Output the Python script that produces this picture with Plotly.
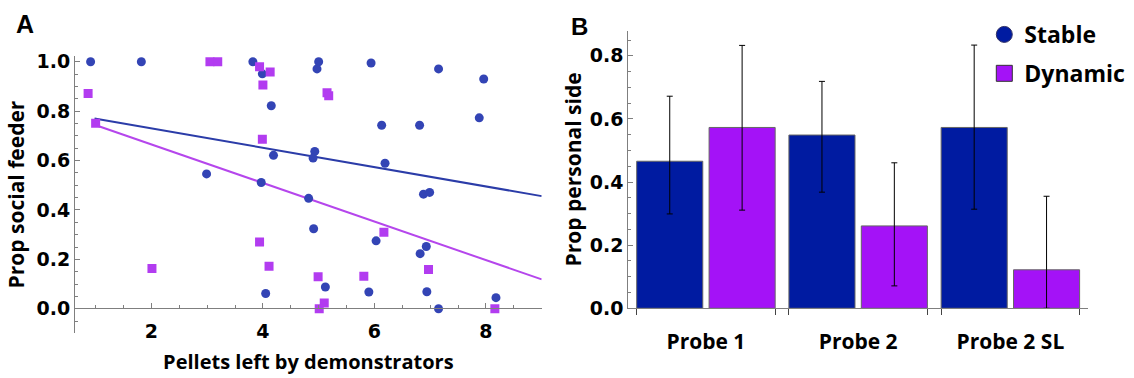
import plotly.graph_objects as go

# ---------------- Panel A data (scatter) ----------------
stable_x = [0.91, 1.82, 3.82, 3.99, 4.15, 4.19, 2.99, 3.97, 5.00, 4.97, 5.94, 7.15, 7.96,
            6.13, 6.81, 7.88, 4.93, 4.90, 6.19, 4.82, 6.88, 6.99, 4.91, 6.03, 6.93, 6.82,
            5.12, 5.90, 6.94, 8.18, 7.15, 4.05]
stable_y = [1.00, 1.00, 1.00, 0.951, 0.822, 0.621, 0.546, 0.511, 1.00, 0.971, 0.995, 0.971, 0.930,
            0.743, 0.743, 0.773, 0.637, 0.610, 0.589, 0.447, 0.464, 0.471, 0.324, 0.275, 0.252, 0.223,
            0.088, 0.068, 0.069, 0.045, 0.000, 0.062]
dynamic_x = [3.05, 3.19, 3.94, 4.13, 4.00, 0.865, 1.00, 3.99, 5.15, 5.18, 6.17, 6.97, 4.11,
             4.99, 5.81, 5.10, 5.01, 8.16, 3.94, 2.01]
dynamic_y = [1.00, 1.00, 0.980, 0.958, 0.906, 0.871, 0.751, 0.686, 0.875, 0.862, 0.310, 0.159, 0.172,
             0.130, 0.132, 0.023, 0.000, 0.000, 0.270, 0.163]
fit_x = [0.98, 9.0]
stable_fit_y = [0.770, 0.456]
dynamic_fit_y = [0.745, 0.119]

# ---------------- Panel B data (bars) ----------------
probes = ["Probe 1", "Probe 2", "Probe 2 SL"]
stable_mean = [0.466, 0.549, 0.573]
stable_hi = [0.672, 0.719, 0.834]
stable_lo = [0.299, 0.368, 0.314]
dynamic_mean = [0.573, 0.261, 0.122]
dynamic_hi = [0.833, 0.461, 0.355]
dynamic_lo = [0.311, 0.071, 0.000]

# ---------------- styles ----------------
BLUE_PT = "#3344B5"
PURP_PT = "#B23CF0"
BLUE_LN = "#2B3CA8"
PURP_LN = "#B546EC"
BLUE_BAR = "#001BA1"
PURP_BAR = "#A412F7"
AXC = "#7F7F7F"
NUMFONT = dict(family="DejaVu Sans", size=19, color="black", weight="bold")
LABFONT = dict(family="Open Sans", size=21, color="black", weight="bold")

BARGAP = 0.049
BARGROUPGAP = 0.087

fig = go.Figure()

# Panel A
fig.add_trace(go.Scatter(x=fit_x, y=stable_fit_y, mode="lines",
                         line=dict(color=BLUE_LN, width=2), showlegend=False,
                         xaxis="x", yaxis="y"))
fig.add_trace(go.Scatter(x=fit_x, y=dynamic_fit_y, mode="lines",
                         line=dict(color=PURP_LN, width=2), showlegend=False,
                         xaxis="x", yaxis="y"))
fig.add_trace(go.Scatter(x=stable_x, y=stable_y, mode="markers",
                         marker=dict(symbol="circle", size=9, color=BLUE_PT),
                         showlegend=False, xaxis="x", yaxis="y"))
fig.add_trace(go.Scatter(x=dynamic_x, y=dynamic_y, mode="markers",
                         marker=dict(symbol="square", size=9, color=PURP_PT),
                         showlegend=False, xaxis="x", yaxis="y"))

# Panel B
pos = list(range(len(probes)))
fig.add_trace(go.Bar(
    x=pos, y=stable_mean, name="Stable", showlegend=False,
    marker=dict(color=BLUE_BAR, line=dict(color="#666666", width=1)),
    error_y=dict(type="data", symmetric=False,
                 array=[h - m for h, m in zip(stable_hi, stable_mean)],
                 arrayminus=[m - l for m, l in zip(stable_mean, stable_lo)],
                 color="black", thickness=1, width=3),
    xaxis="x2", yaxis="y2"))
fig.add_trace(go.Bar(
    x=pos, y=dynamic_mean, name="Dynamic", showlegend=False,
    marker=dict(color=PURP_BAR, line=dict(color="#666666", width=1)),
    error_y=dict(type="data", symmetric=False,
                 array=[h - m for h, m in zip(dynamic_hi, dynamic_mean)],
                 arrayminus=[m - l for m, l in zip(dynamic_mean, dynamic_lo)],
                 color="black", thickness=1, width=3),
    xaxis="x2", yaxis="y2"))

# legend entries
fig.add_trace(go.Scatter(x=[None], y=[None], mode="markers", name="Stable",
                         legendgroup="s",
                         marker=dict(symbol="circle", size=16, color=BLUE_BAR,
                                     line=dict(color="#333366", width=1)),
                         xaxis="x2", yaxis="y2"))
fig.add_trace(go.Scatter(x=[None], y=[None], mode="markers", name="Dynamic",
                         legendgroup="d",
                         marker=dict(symbol="square", size=16, color=PURP_BAR,
                                     line=dict(color="#333333", width=1)),
                         xaxis="x2", yaxis="y2"))

# group edge ticks for panel B
slot = (1 - BARGAP) / 2
half = slot - slot * BARGROUPGAP / 2
edges = []
for p in pos:
    edges += [p - half, p + half]

W, H = 1134, 378
fig.update_layout(
    width=W, height=H,
    margin=dict(l=0, r=0, t=0, b=0),
    paper_bgcolor="white", plot_bgcolor="white",
    barmode="group", bargap=BARGAP, bargroupgap=BARGROUPGAP,
    showlegend=True,
    legend=dict(x=0.868, y=0.978, xanchor="left", yanchor="top",
                font=dict(family="Open Sans", size=23, color="black", weight="bold"),
                bgcolor="rgba(0,0,0,0)", itemsizing="trace",
                traceorder="grouped", tracegroupgap=6),
    xaxis=dict(domain=[75 / W, 541.7 / W], range=[0.63, 9.0],
               anchor="free", position=1 - 316.7 / H,
               showline=True, linecolor=AXC, linewidth=1,
               ticks="inside", ticklen=5, tickcolor=AXC, tick0=0, dtick=2,
               minor=dict(dtick=0.5, tick0=0, ticks="inside", ticklen=3, tickcolor=AXC),
               showgrid=False, zeroline=False, tickfont=NUMFONT, ticklabelstandoff=6,
               title=dict(text="Pellets left by demonstrators",
                          font=dict(family="Open Sans", size=20, color="black", weight="bold"),
                          standoff=13)),
    yaxis=dict(domain=[1 - 343 / H, 1 - 52.8 / H], range=[-0.1, 1.025],
               anchor="x", showline=True, linecolor=AXC, linewidth=1,
               ticks="inside", ticklen=5, tickcolor=AXC, tick0=0, dtick=0.2,
               tickformat=".1f",
               minor=dict(dtick=0.05, tick0=0, ticks="inside", ticklen=3, tickcolor=AXC),
               showgrid=False, zeroline=False, tickfont=NUMFONT,
               title=dict(text="Prop social feeder", font=LABFONT, standoff=6)),
    xaxis2=dict(domain=[628.3 / W, 1088 / W], range=[-0.51, 2.51],
                anchor="y2", showline=True, linecolor=AXC, linewidth=1,
                tickmode="array", tickvals=pos, ticktext=probes, ticks="",
                minor=dict(tickmode="array", tickvals=edges, ticks="outside",
                           ticklen=6, tickcolor="#444444"),
                showgrid=False, zeroline=False,
                tickfont=dict(family="Open Sans", size=21, color="black", weight="bold"),
                ticklabelstandoff=15),
    yaxis2=dict(domain=[1 - 316.7 / H, 1 - 26.7 / H], range=[0, 0.88],
                anchor="x2", showline=True, linecolor=AXC, linewidth=1,
                ticks="inside", ticklen=5, tickcolor=AXC, tick0=0, dtick=0.2,
                tickformat=".1f",
                minor=dict(dtick=0.05, tick0=0, ticks="inside", ticklen=3, tickcolor=AXC),
                showgrid=False, zeroline=False, tickfont=NUMFONT,
                title=dict(text="Prop personal side", font=LABFONT, standoff=2)),
    annotations=[
        dict(text="A", x=25 / W, y=1 - 20 / H, xref="paper", yref="paper",
             showarrow=False, xanchor="center", yanchor="middle",
             font=dict(family="Liberation Sans", size=25, color="black", weight="bold")),
        dict(text="B", x=579 / W, y=1 - 22 / H, xref="paper", yref="paper",
             showarrow=False, xanchor="center", yanchor="middle",
             font=dict(family="Liberation Sans", size=24, color="black", weight="bold")),
    ],
)

fig.write_html("out.html")
